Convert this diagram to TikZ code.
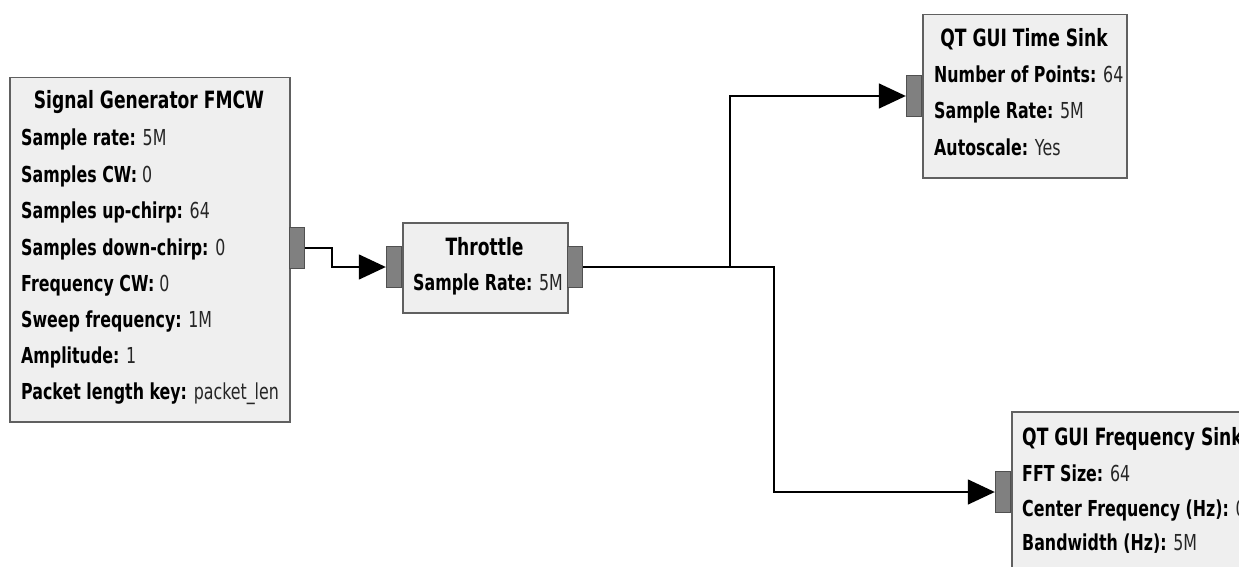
\documentclass[tikz,border=0pt]{standalone}
\usepackage{fontspec}
\setmainfont{DejaVu Sans}[FakeStretch=0.72]
\usetikzlibrary{arrows.meta}
\definecolor{boxfill}{HTML}{EFEFEF}
\definecolor{boxline}{HTML}{606060}
\definecolor{portfill}{HTML}{808080}
\definecolor{portline}{HTML}{505050}
\definecolor{valcol}{HTML}{262626}
\newcommand{\kv}[2]{{\bfseries #1:} {\color{valcol}#2}}
\tikzset{
  blk/.style={draw=boxline, fill=boxfill, line width=1.5pt, inner sep=0pt},
  port/.style={draw=portline, fill=portfill, line width=1.2pt, inner sep=0pt, minimum width=15pt, minimum height=41pt},
  txt/.style={inner sep=0pt, font=\fontsize{22}{26}\selectfont, anchor=base west},
  ttl/.style={inner sep=0pt, font=\fontsize{23.8}{28}\selectfont\bfseries, anchor=base},
  conn/.style={draw=black, line width=1.5pt, -{Triangle[length=27pt,width=25pt]}}
}
\begin{document}
\begin{tikzpicture}[x=1pt,y=-1pt]
\useasboundingbox (0,0) rectangle (1239,567);
\clip (0,0) rectangle (1239,567);
% blocks
\node[blk, anchor=north west, minimum width=280pt, minimum height=344pt] (sg) at (9,77) {};
\node[blk, anchor=north west, minimum width=165pt, minimum height=90pt] (th) at (402,222) {};
\node[blk, anchor=north west, minimum width=204pt, minimum height=163pt] (ts) at (922,14) {};
\node[blk, anchor=north west, minimum width=320pt, minimum height=220pt] (fs) at (1011,411) {};
% ports
\node[port, anchor=west] (sgout) at (289,248) {};
\node[port, anchor=east] (thin) at (402,267) {};
\node[port, anchor=west] (thout) at (567,267) {};
\node[port, anchor=east] (tsin) at (922,96) {};
\node[port, anchor=east] (fsin) at (1011,492) {};
% signal generator text
\node[ttl] (sgt) at (149,109) {Signal Generator FMCW};
\node[txt] (sg1) at (21,146) {\kv{Sample rate}{5M}};
\node[txt] (sg2) at (21,182) {\kv{Samples CW}{0}};
\node[txt] (sg3) at (21,218) {\kv{Samples up-chirp}{64}};
\node[txt] (sg4) at (21,255) {\kv{Samples down-chirp}{0}};
\node[txt] (sg5) at (21,291) {\kv{Frequency CW}{0}};
\node[txt] (sg6) at (21,327) {\kv{Sweep frequency}{1M}};
\node[txt] (sg7) at (21,363) {\kv{Amplitude}{1}};
\node[txt] (sg8) at (21,399) {\kv{Packet length key}{packet\_len}};
% throttle text
\node[ttl] (tht) at (484.5,255) {Throttle};
\node[txt] (th1) at (413,290) {\kv{Sample Rate}{5M}};
% time sink text
\node[ttl] (tst) at (1024,47) {QT GUI Time Sink};
\node[txt] (ts1) at (934,83) {\kv{Number of Points}{64}};
\node[txt] (ts2) at (934,119) {\kv{Sample Rate}{5M}};
\node[txt] (ts3) at (934,155) {\kv{Autoscale}{Yes}};
% frequency sink text
\node[ttl, anchor=base west] (fst) at (1022,445) {QT GUI Frequency Sink};
\node[txt] (fs1) at (1022,481) {\kv{FFT Size}{64}};
\node[txt] (fs2) at (1022,516) {\kv{Center Frequency (Hz)}{0}};
\node[txt] (fs3) at (1022,550) {\kv{Bandwidth (Hz)}{5M}};
% connectors
\coordinate (j0) at (332,248);
\coordinate (j1) at (730,267);
\coordinate (j2) at (774,267);
\draw[conn] (sgout.east) -- (j0) |- (thin.west);
\draw[conn] (thout.east) -- (j1) |- (tsin.west);
\draw[conn] (thout.east) -- (j2) |- (fsin.west);
\end{tikzpicture}
\end{document}
